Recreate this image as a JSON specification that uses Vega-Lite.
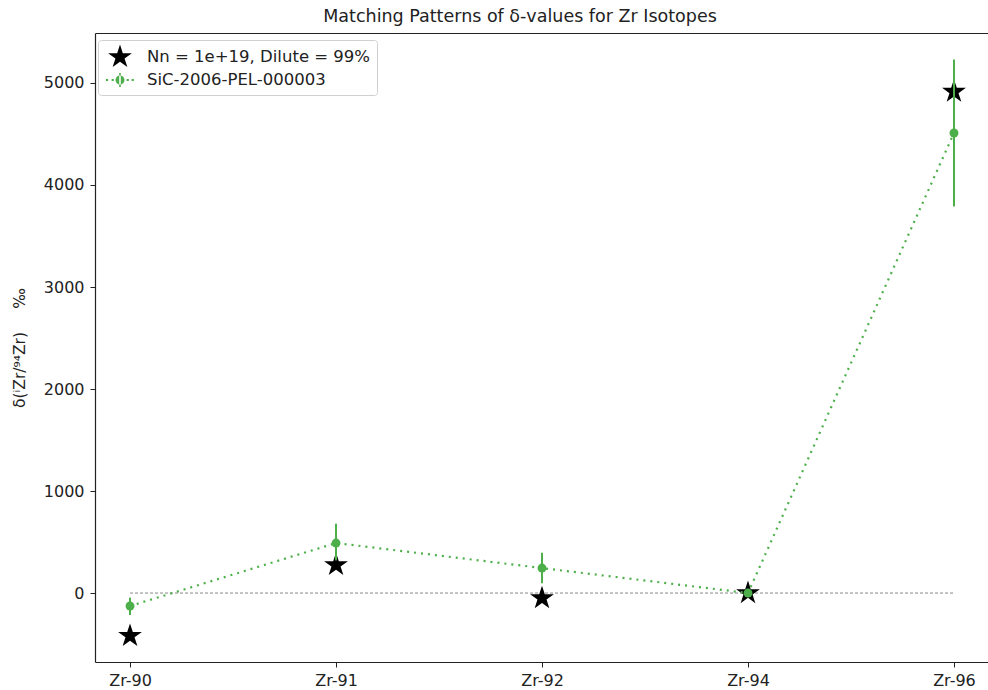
{
  "$schema": "https://vega.github.io/schema/vega-lite/v6.json",
  "width": 894,
  "height": 629,
  "autosize": {"type": "none"},
  "padding": {"left": 95, "top": 33, "right": 0, "bottom": 28},
  "background": "white",
  "title": {"text": "Matching Patterns of δ-values for Zr Isotopes", "font": "DejaVu Sans", "fontSize": 17.5, "fontWeight": "normal", "color": "#222", "offset": 8, "anchor": "middle", "dx": -22},
  "config": {
    "view": {"stroke": null},
    "axis": {"labelFont": "DejaVu Sans", "labelFontSize": 16, "labelColor": "#222", "tickColor": "#222", "domainColor": "#222", "domainWidth": 1.2, "tickSize": 5, "labelPadding": 5, "grid": false, "titleFont": "DejaVu Sans", "titleFontSize": 15.5, "titleFontWeight": "normal", "titleColor": "#222"},
    "legend": {"labelFont": "DejaVu Sans", "labelFontSize": 16.5, "labelColor": "#222", "labelLimit": 400}
  },
  "resolve": {"axis": {"x": "independent"}},
  "data": {"values": [
    {"iso": "Zr-90", "series": "Nn = 1e+19, Dilute = 99%", "delta": -420},
    {"iso": "Zr-91", "series": "Nn = 1e+19, Dilute = 99%", "delta": 275},
    {"iso": "Zr-92", "series": "Nn = 1e+19, Dilute = 99%", "delta": -50},
    {"iso": "Zr-94", "series": "Nn = 1e+19, Dilute = 99%", "delta": 0},
    {"iso": "Zr-96", "series": "Nn = 1e+19, Dilute = 99%", "delta": 4915},
    {"iso": "Zr-90", "series": "SiC-2006-PEL-000003", "delta": -127, "lo": -215, "hi": -45},
    {"iso": "Zr-91", "series": "SiC-2006-PEL-000003", "delta": 490, "lo": 320, "hi": 680},
    {"iso": "Zr-92", "series": "SiC-2006-PEL-000003", "delta": 245, "lo": 95, "hi": 395},
    {"iso": "Zr-94", "series": "SiC-2006-PEL-000003", "delta": 0, "lo": 0, "hi": 0},
    {"iso": "Zr-96", "series": "SiC-2006-PEL-000003", "delta": 4510, "lo": 3790, "hi": 5230}
  ]},
  "encoding": {
    "x": {"field": "iso", "type": "ordinal", "scale": {"type": "point", "padding": 0.17}},
    "y": {"type": "quantitative", "scale": {"domain": [-676, 5490], "nice": false, "zero": false}}
  },
  "layer": [
    {
      "transform": [{"filter": "datum.series === 'SiC-2006-PEL-000003'"}],
      "mark": {"type": "rule", "color": "#555", "strokeDash": [3, 2], "strokeWidth": 0.7},
      "encoding": {
        "x": {"aggregate": "min", "field": "iso", "axis": {"title": null, "labelAngle": 0}},
        "x2": {"aggregate": "max", "field": "iso"},
        "y": {"datum": 0, "type": "quantitative", "axis": {"title": "δ(ⁱZr/⁹⁴Zr)\u2003\u2002‰", "values": [0, 1000, 2000, 3000, 4000, 5000], "format": "d", "titlePadding": 16, "labelPadding": 6}}
      }
    },
    {
      "transform": [{"filter": "datum.series === 'Nn = 1e+19, Dilute = 99%'"}],
      "mark": {"type": "point", "filled": true, "opacity": 1, "strokeWidth": 0},
      "encoding": {
        "x": {"field": "iso", "type": "ordinal", "axis": null},
        "y": {"field": "delta"},
        "color": {"field": "series", "type": "nominal", "scale": {"domain": ["Nn = 1e+19, Dilute = 99%", "SiC-2006-PEL-000003"], "range": ["black", "#4daf4a"]}, "legend": {"title": null, "orient": "none", "legendX": 3, "legendY": 7, "strokeColor": "#d0d0d0", "fillColor": "white", "cornerRadius": 3, "padding": 6, "rowPadding": 1, "symbolOffset": 5, "labelOffset": 16}},
        "shape": {"field": "series", "type": "nominal", "scale": {"domain": ["Nn = 1e+19, Dilute = 99%", "SiC-2006-PEL-000003"], "range": ["M0,-1.25 L0.281,-0.386 L1.189,-0.386 L0.454,0.148 L0.735,1.011 L0,0.478 L-0.735,1.011 L-0.454,0.148 L-1.189,-0.386 L-0.281,-0.386 Z", "M-0.45,0 A0.45,0.45 0 1,0 0.45,0 A0.45,0.45 0 1,0 -0.45,0 Z M-0.08,-0.7 h0.16 v1.4 h-0.16 Z M-1.41,-0.11 h0.22 v0.22 h-0.22 Z M-0.84,-0.11 h0.22 v0.22 h-0.22 Z M0.66,-0.11 h0.22 v0.22 h-0.22 Z M1.16,-0.11 h0.22 v0.22 h-0.22 Z"]}},
        "size": {"field": "series", "type": "nominal", "scale": {"domain": ["Nn = 1e+19, Dilute = 99%", "SiC-2006-PEL-000003"], "range": [400, 400]}}
      }
    },
    {
      "transform": [{"filter": "datum.series === 'SiC-2006-PEL-000003'"}],
      "mark": {"type": "line", "color": "#4daf4a", "strokeDash": [2, 5], "strokeWidth": 2.2},
      "encoding": {
        "x": {"field": "iso", "type": "ordinal", "axis": {"orient": "top", "labels": false, "ticks": false, "title": null, "domain": true}},
        "y": {"field": "delta"}
      }
    },
    {
      "transform": [{"filter": "datum.series === 'SiC-2006-PEL-000003' && datum.hi > datum.lo"}],
      "mark": {"type": "rule", "color": "#4daf4a", "strokeWidth": 2},
      "encoding": {"x": {"field": "iso", "type": "ordinal", "axis": null}, "y": {"field": "lo"}, "y2": {"field": "hi"}}
    },
    {
      "transform": [{"filter": "datum.series === 'SiC-2006-PEL-000003'"}],
      "mark": {"type": "point", "filled": true, "opacity": 1, "shape": "circle", "size": 80, "color": "#4daf4a"},
      "encoding": {"x": {"field": "iso", "type": "ordinal", "axis": null}, "y": {"field": "delta"}}
    }
  ]
}
